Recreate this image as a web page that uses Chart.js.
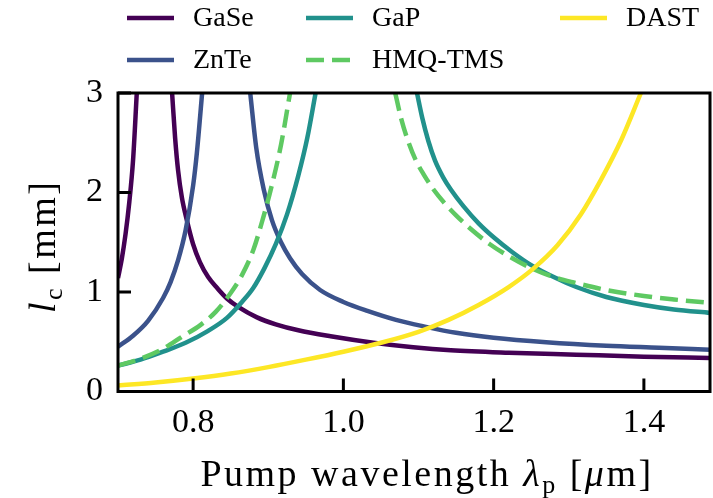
<!DOCTYPE html>
<html>
<head>
<meta charset="utf-8">
<script src="https://cdn.jsdelivr.net/npm/chart.js@4.4.1/dist/chart.umd.min.js"></script>
<style>
  html, body { margin: 0; padding: 0; background: #ffffff; }
  canvas { display: block; }
</style>
</head>
<body>
<canvas id="lc" width="713" height="498"></canvas>
<script>
// Coherence length l_c (mm) versus pump wavelength (µm) for five THz emitter crystals.
// A null value separates the two branches on either side of the phase-matching pole.
const gaseWl = [0.700, 0.705, 0.710, 0.715, 0.720, 0.725, 0.748,
                0.772, 0.776, 0.780, 0.785, 0.792, 0.800, 0.809, 0.820, 0.832, 0.845, 0.860, 0.885, 0.910, 0.940, 0.983, 1.040, 1.093, 1.143, 1.220, 1.310, 1.400, 1.488];
const gaseLc = [1.14, 1.33, 1.58, 1.90, 2.32, 3.00, null,
                3.00, 2.55, 2.22, 1.95, 1.71, 1.48, 1.30, 1.15, 1.04, 0.935, 0.85, 0.745, 0.675, 0.615, 0.555, 0.49, 0.445, 0.415, 0.39, 0.37, 0.35, 0.337];

const znteWl = [0.700, 0.720, 0.740, 0.760, 0.770, 0.780, 0.790, 0.800, 0.805, 0.812, 0.845,
                0.876, 0.884, 0.894, 0.905, 0.917, 0.929, 0.945, 0.969, 1.000, 1.032, 1.070, 1.110, 1.150, 1.200, 1.270, 1.350, 1.420, 1.488];
const znteLc = [0.45, 0.56, 0.71, 0.94, 1.10, 1.32, 1.62, 2.07, 2.40, 3.00, null,
                3.00, 2.45, 2.03, 1.72, 1.50, 1.34, 1.18, 1.02, 0.90, 0.81, 0.72, 0.65, 0.59, 0.54, 0.495, 0.46, 0.44, 0.42];

const gapWl = [0.700, 0.730, 0.760, 0.790, 0.820, 0.845, 0.865, 0.880, 0.895, 0.910, 0.925, 0.940, 0.952, 0.963, 1.030,
               1.098, 1.105, 1.113, 1.122, 1.133, 1.143, 1.160, 1.180, 1.200, 1.225, 1.250, 1.280, 1.310, 1.350, 1.400, 1.440, 1.488];
const gapLc = [0.26, 0.32, 0.40, 0.49, 0.61, 0.74, 0.90, 1.04, 1.24, 1.48, 1.78, 2.17, 2.55, 3.00, null,
               3.00, 2.75, 2.52, 2.32, 2.15, 2.03, 1.86, 1.69, 1.55, 1.40, 1.27, 1.15, 1.05, 0.95, 0.87, 0.825, 0.79];

const hmqWl = [0.700, 0.730, 0.760, 0.785, 0.810, 0.830, 0.850, 0.865, 0.880, 0.893, 0.905, 0.917, 0.929, 1.000,
               1.069, 1.077, 1.086, 1.096, 1.107, 1.120, 1.135, 1.150, 1.170, 1.195, 1.220, 1.250, 1.280, 1.310, 1.350, 1.400, 1.440, 1.488];
const hmqLc = [0.26, 0.33, 0.43, 0.55, 0.67, 0.80, 0.99, 1.17, 1.42, 1.74, 2.08, 2.48, 3.00, null,
               3.00, 2.74, 2.52, 2.33, 2.18, 2.03, 1.89, 1.77, 1.63, 1.48, 1.36, 1.24, 1.15, 1.09, 1.02, 0.96, 0.925, 0.89];

const dastWl = [0.700, 0.750, 0.800, 0.850, 0.900, 0.950, 1.000, 1.050, 1.100, 1.140, 1.180, 1.220, 1.252, 1.285, 1.316, 1.343, 1.370, 1.396];
const dastLc = [0.06, 0.09, 0.13, 0.18, 0.245, 0.32, 0.40, 0.49, 0.60, 0.72, 0.87, 1.05, 1.23, 1.47, 1.78, 2.13, 2.53, 3.00];

const seriesNames = ['GaSe', 'ZnTe', 'GaP', 'HMQ-TMS', 'DAST'];
const xTicks = [0.8, 1.0, 1.2, 1.4];
const yTicks = [0, 1, 2, 3];

const SERIF = '"Liberation Serif", "Times New Roman", serif';
const INK = '#000000';

const series = [
  { wl: gaseWl, lc: gaseLc, color: '#440154', dash: [] },
  { wl: znteWl, lc: znteLc, color: '#3b528b', dash: [] },
  { wl: gapWl,  lc: gapLc,  color: '#21918c', dash: [] },
  { wl: hmqWl,  lc: hmqLc,  color: '#5ec962', dash: [18, 8] },
  { wl: dastWl, lc: dastLc, color: '#fde725', dash: [] }
];

const datasets = series.map((s, i) => ({
  label: seriesNames[i],
  data: s.wl.map((w, k) => ({ x: w, y: s.lc[k] })),
  borderColor: s.color,
  backgroundColor: s.color,
  borderWidth: 4.5,
  borderDash: s.dash,
  pointRadius: 0,
  fill: false,
  spanGaps: false,
  cubicInterpolationMode: 'monotone',
  clip: 0,
  order: series.length - i
}));

// Runs of text with their own font and baseline shift (for italics and subscripts)
function runsWidth(ctx, runs) {
  let w = 0;
  runs.forEach(r => { ctx.font = r.font; w += ctx.measureText(r.text).width; });
  return w;
}
function drawRuns(ctx, runs, x0, y0) {
  let x = x0;
  runs.forEach(r => {
    ctx.font = r.font;
    ctx.fillText(r.text, x, y0 + (r.dy || 0));
    x += ctx.measureText(r.text).width;
  });
}

// Closed frame with inward tick marks
const framePlugin = {
  id: 'frame',
  afterDatasetsDraw(chart) {
    const { ctx, chartArea: a, scales: { x, y } } = chart;
    ctx.save();
    ctx.strokeStyle = INK;
    ctx.lineWidth = 3;
    ctx.setLineDash([]);
    ctx.beginPath();
    x.ticks.forEach(t => {
      const px = x.getPixelForValue(t.value);
      ctx.moveTo(px, a.bottom);
      ctx.lineTo(px, a.bottom - 13);
    });
    y.ticks.forEach(t => {
      const py = y.getPixelForValue(t.value);
      ctx.moveTo(a.left, py);
      ctx.lineTo(a.left + 13, py);
    });
    ctx.stroke();
    ctx.strokeRect(a.left, a.top, a.right - a.left, a.bottom - a.top);
    ctx.restore();
  }
};

// Axis titles with italic symbols and subscripts
const titlePlugin = {
  id: 'axisTitles',
  afterDraw(chart) {
    const { ctx, chartArea: a } = chart;
    const big = 38, small = 26;
    const norm = s => `${s}px ${SERIF}`;
    const ital = s => `italic ${s}px ${SERIF}`;
    ctx.save();
    ctx.fillStyle = INK;
    ctx.textBaseline = 'alphabetic';
    ctx.textAlign = 'left';
    ctx.letterSpacing = '2.5px';

    const xRuns = [
      { text: 'Pump wavelength ', font: norm(big) },
      { text: 'λ', font: ital(big) },
      { text: 'p', font: norm(small), dy: 7 },
      { text: ' [', font: norm(big) },
      { text: 'μ', font: ital(big) },
      { text: 'm]', font: norm(big) }
    ];
    const xw = runsWidth(ctx, xRuns);
    const xc = (a.left + a.right) / 2 + 13;
    drawRuns(ctx, xRuns, xc - xw / 2, 486);

    const yRuns = [
      { text: 'l', font: ital(big) },
      { text: 'c', font: norm(small), dy: 7 },
      { text: ' [mm]', font: norm(big) }
    ];
    const yw = runsWidth(ctx, yRuns);
    ctx.translate(55, (a.top + a.bottom) / 2 + 4);
    ctx.rotate(-Math.PI / 2);
    drawRuns(ctx, yRuns, -yw / 2, 0);
    ctx.restore();
  }
};

// Legend laid out column by column, three columns of two rows
const legendPlugin = {
  id: 'columnLegend',
  afterDraw(chart) {
    const { ctx } = chart;
    const colX = [127, 306, 560];
    const rowY = [18, 60];
    ctx.save();
    chart.data.datasets.forEach((ds, i) => {
      const x = colX[Math.floor(i / 2)];
      const y = rowY[i % 2];
      ctx.strokeStyle = ds.borderColor;
      ctx.lineWidth = ds.borderWidth;
      ctx.setLineDash(ds.borderDash || []);
      ctx.beginPath();
      ctx.moveTo(x, y);
      ctx.lineTo(x + 47, y);
      ctx.stroke();
      ctx.setLineDash([]);
      ctx.fillStyle = INK;
      ctx.font = `28px ${SERIF}`;
      ctx.textAlign = 'left';
      ctx.textBaseline = 'middle';
      ctx.fillText(ds.label, x + 66, y + 1);
    });
    ctx.restore();
  }
};

new Chart(document.getElementById('lc'), {
  type: 'line',
  data: { datasets },
  options: {
    responsive: false,
    devicePixelRatio: 1,
    animation: false,
    layout: { padding: { top: 93, right: 3, left: 0, bottom: 0 } },
    plugins: { legend: { display: false }, tooltip: { enabled: false } },
    scales: {
      x: {
        type: 'linear',
        min: 0.7,
        max: 1.488,
        afterBuildTicks: s => { s.ticks = xTicks.map(v => ({ value: v })); },
        afterFit: s => { s.height = 106.5; },
        grid: { display: false, drawTicks: false, tickLength: 0 },
        border: { display: false },
        ticks: {
          autoSkip: false,
          maxRotation: 0,
          padding: 11,
          color: INK,
          font: { family: SERIF, size: 34 },
          callback: v => Number(v).toFixed(1)
        }
      },
      y: {
        type: 'linear',
        min: 0,
        max: 3,
        afterBuildTicks: s => { s.ticks = yTicks.map(v => ({ value: v })); },
        afterFit: s => { s.width = 118; },
        grid: { display: false, drawTicks: false, tickLength: 0 },
        border: { display: false },
        ticks: {
          padding: 15,
          color: INK,
          font: { family: SERIF, size: 34 },
          callback: v => String(v)
        }
      }
    }
  },
  plugins: [framePlugin, titlePlugin, legendPlugin]
});
</script>
</body>
</html>
